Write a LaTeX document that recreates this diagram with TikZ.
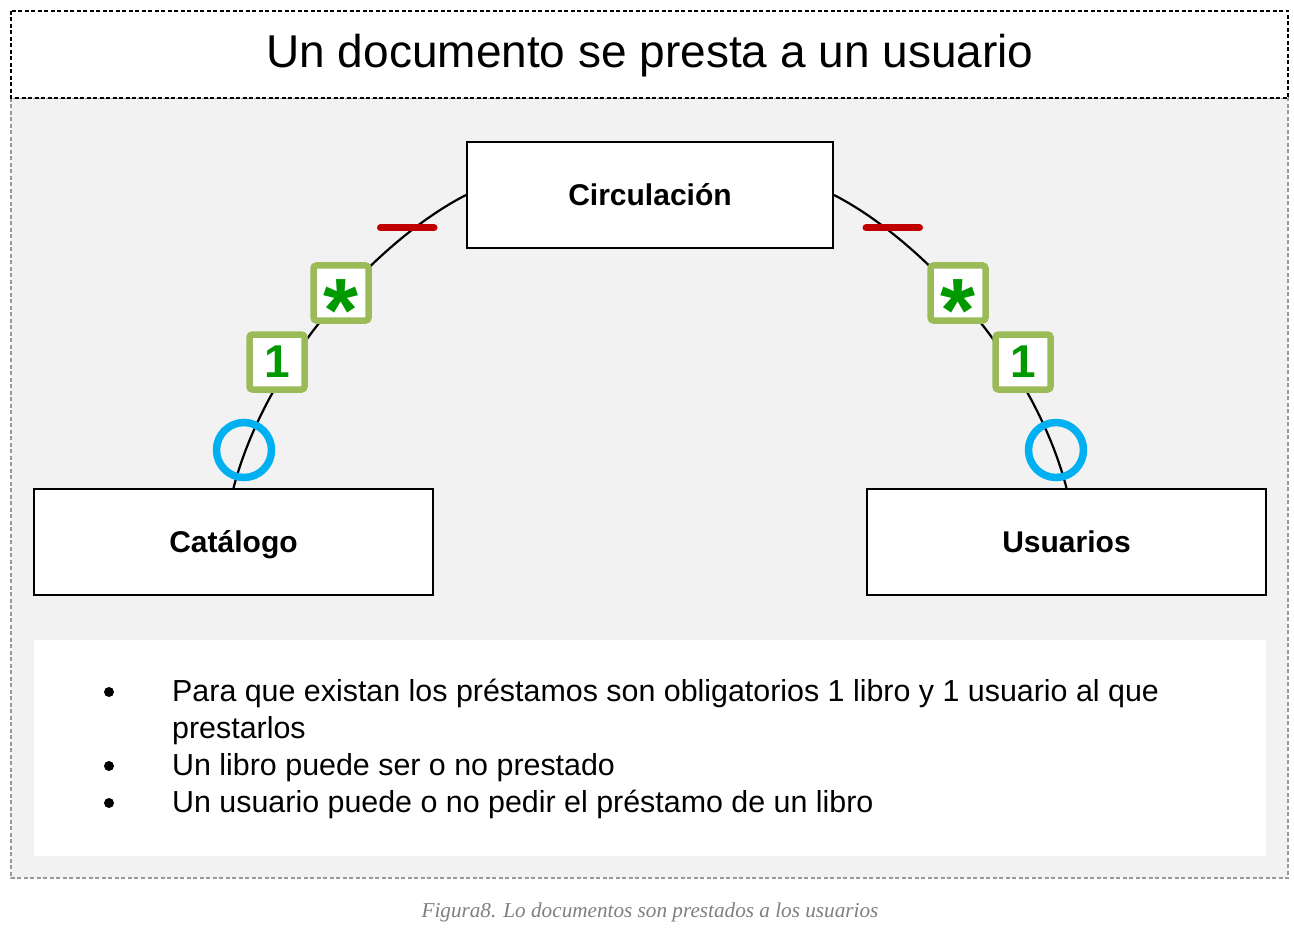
\documentclass[tikz,border=0pt]{standalone}
\usepackage{fontspec}
\setmainfont{Liberation Sans}
\newfontfamily\capfont{Liberation Serif}
\definecolor{panelgray}{HTML}{F2F2F2}
\definecolor{dashgray}{HTML}{999999}
\definecolor{relred}{HTML}{C00000}
\definecolor{olivebox}{HTML}{9BBB59}
\definecolor{greentxt}{HTML}{009900}
\definecolor{cyanring}{HTML}{00B0F0}
\definecolor{capgray}{HTML}{808080}
\begin{document}
\begin{tikzpicture}[x=1pt,y=-1pt,
  entity/.style={draw=black,line width=2pt,fill=white,minimum width=399pt,minimum height=106pt,inner sep=0pt,
    font=\fontsize{30}{36}\selectfont\bfseries,text height=21.5pt,text depth=0pt},
  rel/.style={draw=black,line width=2.2pt},
  gbox/.style={draw=olivebox,line width=6.5pt,fill=white,rounded corners=3pt,minimum size=55pt,inner sep=0pt,
    text=greentxt,font=\fontsize{46}{46}\selectfont\bfseries},
  ring/.style={draw=cyanring,line width=7.5pt,circle,minimum size=55pt,inner sep=0pt},
  bar/.style={draw=relred,line width=7pt,line cap=round},
  bul/.style={circle,fill=black,minimum size=10pt,inner sep=0pt},
  btxt/.style={anchor=base west,inner sep=0pt,font=\fontsize{30.4}{37}\selectfont},
]
\useasboundingbox (0,0) rectangle (1294,944);
\fill[white] (0,0) rectangle (1294,944);
% panel
\draw[dashgray,line width=2pt,dash pattern=on 4pt off 2.5pt,fill=panelgray] (11,98) rectangle (1288,878);
% title
\draw[black,line width=2pt,dash pattern=on 4pt off 2.5pt,fill=white] (11,11) rectangle (1288,98);
\node[anchor=base,inner sep=0pt,font=\fontsize{46}{50}\selectfont] (title) at (650,68) {Un documento se presta a un usuario};

% entities
\node[entity,minimum width=366pt] (circ) at (650,195) {Circulación};
\node[entity] (cat) at (233.5,542) {Catálogo};
\node[entity] (usu) at (1066.5,542) {Usuarios};

% relationships
\draw[rel] (cat.north) .. controls +(34,-130) and +(-86,44) .. (circ.west);
\draw[rel] (usu.north) .. controls +(-34,-130) and +(86,44) .. (circ.east);

% left markers
\coordinate (lbA) at (380.5,228); \coordinate (lbB) at (434,228);
\draw[bar] (lbA) -- (lbB);
\node[gbox] (lstar) at (341,293) {\smash{\raisebox{-49pt}{\fontsize{90}{90}\selectfont *}}};
\node[gbox] (lone) at (277,362) {1};
\node[ring] (lring) at (244,450) {};

% right markers
\coordinate (rbA) at (866,228); \coordinate (rbB) at (919.5,228);
\draw[bar] (rbA) -- (rbB);
\node[gbox] (rstar) at (958,293) {\smash{\raisebox{-49pt}{\fontsize{90}{90}\selectfont *}}};
\node[gbox] (rone) at (1023,362) {1};
\node[ring] (rring) at (1056,450) {};

% notes
\fill[white] (34,640) rectangle (1266,856);
\node[bul] (b1) at (109,692) {};
\node[bul] (b2) at (109,766) {};
\node[bul] (b3) at (109,803) {};
\node[btxt] (t1) at (172,701) {Para que existan los préstamos son obligatorios 1 libro y 1 usuario al que};
\node[btxt] (t1b) at (172,738) {prestarlos};
\node[btxt] (t2) at (172,775) {Un libro puede ser o no prestado};
\node[btxt] (t3) at (172,812) {Un usuario puede o no pedir el préstamo de un libro};

% caption
\node[anchor=base,inner sep=0pt,text=capgray,font=\capfont\itshape\fontsize{21.2}{24}\selectfont] (cap) at (650,917) {Figura8. Lo documentos son prestados a los usuarios};
\end{tikzpicture}
\end{document}
